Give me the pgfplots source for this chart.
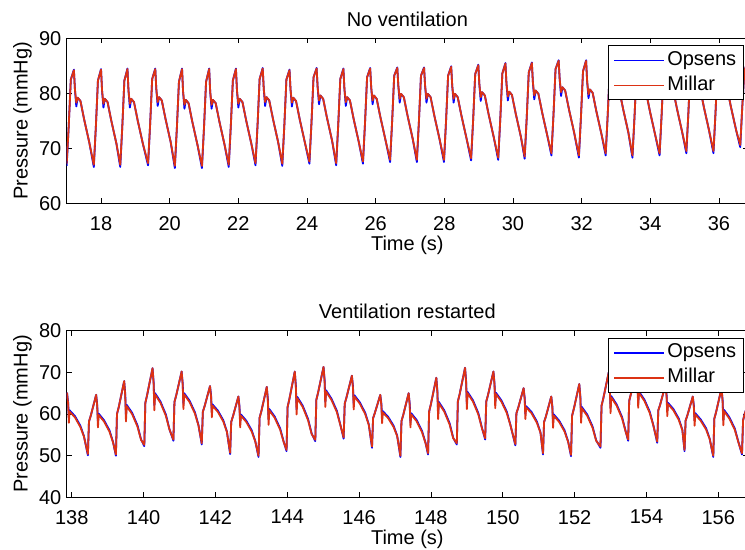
\documentclass[border=0pt]{standalone}
\usepackage{pgfplots}
\pgfplotsset{compat=1.18}
\usepackage{pgfplotstable}
\usepackage{fontspec}
\setmainfont{Liberation Sans}
\definecolor{opsblue}{rgb}{0,0,1}
\definecolor{milred}{RGB}{220,50,20}

\pgfplotstableread{
t o m
17.00 66.8 67.2
17.06 74.2 74.2
17.12 82.5 82.5
17.21 84.3 84.2
17.24 80.7 80.7
17.28 77.6 78.3
17.32 79.2 79.2
17.40 78.6 78.6
17.51 75.2 75.2
17.66 71.0 71.0
17.79 66.6 67.0
17.85 74.0 74.0
17.91 82.3 82.3
18.00 84.4 84.3
18.03 80.5 80.5
18.07 77.4 78.1
18.11 79.0 79.0
18.19 78.4 78.4
18.30 75.0 75.0
18.45 70.8 70.8
18.56 66.6 67.0
18.62 74.0 74.0
18.68 82.3 82.3
18.77 84.5 84.4
18.80 80.5 80.5
18.84 77.4 78.1
18.88 79.0 79.0
18.96 78.4 78.4
19.07 75.0 75.0
19.22 70.8 70.8
19.37 66.9 67.3
19.43 74.3 74.3
19.49 82.6 82.6
19.58 84.5 84.4
19.61 80.8 80.8
19.65 77.7 78.4
19.69 79.3 79.3
19.77 78.7 78.7
19.88 75.3 75.3
20.03 71.1 71.1
20.15 66.4 66.8
20.21 73.8 73.8
20.27 82.1 82.1
20.36 84.5 84.4
20.39 80.3 80.3
20.43 77.2 77.9
20.47 78.8 78.8
20.55 78.2 78.2
20.66 74.8 74.8
20.81 70.6 70.6
20.94 66.4 66.8
21.00 73.8 73.8
21.06 82.1 82.1
21.15 84.5 84.4
21.18 80.3 80.3
21.22 77.2 77.9
21.26 78.8 78.8
21.34 78.2 78.2
21.45 74.8 74.8
21.60 70.6 70.6
21.72 66.6 67.0
21.78 74.0 74.0
21.84 82.3 82.3
21.93 84.5 84.4
21.96 80.5 80.5
22.00 77.4 78.1
22.04 79.0 79.0
22.12 78.4 78.4
22.23 75.0 75.0
22.38 70.8 70.8
22.50 66.9 67.3
22.56 74.3 74.3
22.62 82.6 82.6
22.71 84.6 84.5
22.74 80.8 80.8
22.78 77.7 78.4
22.82 79.3 79.3
22.90 78.7 78.7
23.01 75.3 75.3
23.16 71.1 71.1
23.28 66.8 67.2
23.34 74.2 74.2
23.40 82.5 82.5
23.49 84.3 84.2
23.52 80.7 80.7
23.56 77.6 78.3
23.60 79.2 79.2
23.68 78.6 78.6
23.79 75.2 75.2
23.94 71.0 71.0
24.07 67.2 67.6
24.13 74.6 74.6
24.19 82.9 82.9
24.28 84.6 84.5
24.31 81.1 81.1
24.35 78.0 78.7
24.39 79.6 79.6
24.47 79.0 79.0
24.58 75.6 75.6
24.73 71.4 71.4
24.85 66.9 67.3
24.91 74.3 74.3
24.97 82.6 82.6
25.06 84.5 84.4
25.09 80.8 80.8
25.13 77.7 78.4
25.17 79.3 79.3
25.25 78.7 78.7
25.36 75.3 75.3
25.51 71.1 71.1
25.63 67.2 67.6
25.69 74.6 74.6
25.75 82.9 82.9
25.84 84.6 84.5
25.87 81.1 81.1
25.91 78.0 78.7
25.95 79.6 79.6
26.03 79.0 79.0
26.14 75.6 75.6
26.29 71.4 71.4
26.42 67.5 67.9
26.48 74.9 74.9
26.54 83.2 83.2
26.63 84.7 84.6
26.66 81.4 81.4
26.70 78.3 79.0
26.74 79.9 79.9
26.82 79.3 79.3
26.93 75.9 75.9
27.08 71.7 71.7
27.20 67.5 67.9
27.26 74.9 74.9
27.32 83.2 83.2
27.41 84.7 84.6
27.44 81.4 81.4
27.48 78.3 79.0
27.52 79.9 79.9
27.60 79.3 79.3
27.71 75.9 75.9
27.86 71.7 71.7
27.99 67.5 67.9
28.05 74.9 74.9
28.11 83.2 83.2
28.20 84.9 84.8
28.23 81.4 81.4
28.27 78.3 79.0
28.31 79.9 79.9
28.39 79.3 79.3
28.50 75.9 75.9
28.65 71.7 71.7
28.78 67.8 68.2
28.84 75.2 75.2
28.90 83.5 83.5
28.99 85.2 85.1
29.02 81.7 81.7
29.06 78.6 79.3
29.10 80.2 80.2
29.18 79.6 79.6
29.29 76.2 76.2
29.44 72.0 72.0
29.57 67.9 68.3
29.63 75.3 75.3
29.69 83.6 83.6
29.78 85.5 85.4
29.81 81.8 81.8
29.85 78.7 79.4
29.89 80.3 80.3
29.97 79.7 79.7
30.08 76.3 76.3
30.23 72.1 72.1
30.34 68.1 68.5
30.40 75.5 75.5
30.46 83.8 83.8
30.55 85.6 85.5
30.58 82.0 82.0
30.62 78.9 79.6
30.66 80.5 80.5
30.74 79.9 79.9
30.85 76.5 76.5
31.00 72.3 72.3
31.12 68.7 69.1
31.18 76.1 76.1
31.24 84.4 84.4
31.33 86.0 85.9
31.36 82.6 82.6
31.40 79.5 80.2
31.44 81.1 81.1
31.52 80.5 80.5
31.63 77.1 77.1
31.78 72.9 72.9
31.92 68.3 68.7
31.98 75.7 75.7
32.04 84.0 84.0
32.13 86.0 85.9
32.16 82.2 82.2
32.20 79.1 79.8
32.24 80.7 80.7
32.32 80.1 80.1
32.43 76.7 76.7
32.58 72.5 72.5
32.70 68.7 69.1
32.76 76.1 76.1
32.82 84.4 84.4
32.91 85.7 85.6
32.94 82.6 82.6
32.98 79.5 80.2
33.02 81.1 81.1
33.10 80.5 80.5
33.21 77.1 77.1
33.36 72.9 72.9
33.48 68.3 68.7
33.54 75.7 75.7
33.60 84.0 84.0
33.69 85.7 85.6
33.72 82.2 82.2
33.76 79.1 79.8
33.80 80.7 80.7
33.88 80.1 80.1
33.99 76.7 76.7
34.14 72.5 72.5
34.27 68.7 69.1
34.33 76.1 76.1
34.39 84.4 84.4
34.48 85.7 85.6
34.51 82.6 82.6
34.55 79.5 80.2
34.59 81.1 81.1
34.67 80.5 80.5
34.78 77.1 77.1
34.93 72.9 72.9
35.05 69.1 69.5
35.11 76.5 76.5
35.17 84.8 84.8
35.26 85.7 85.6
35.29 83.0 83.0
35.33 79.9 80.6
35.37 81.5 81.5
35.45 80.9 80.9
35.56 77.5 77.5
35.71 73.3 73.3
35.84 69.1 69.5
35.90 76.5 76.5
35.96 84.8 84.8
36.05 85.7 85.6
36.08 83.0 83.0
36.12 79.9 80.6
36.16 81.5 81.5
36.24 80.9 80.9
36.35 77.5 77.5
36.50 73.3 73.3
36.62 70.2 70.6
36.68 77.6 77.6
36.74 84.0 84.0
36.83 85.8 85.8
}\topdata

\pgfplotstableread{
t o m
137.64 51.7 52.0
137.67 59.2 59.2
137.72 60.5 60.5
137.87 65.0 65.0
137.90 62.8 62.4
137.92 59.1 57.9
137.94 60.9 60.6
138.09 59.5 59.2
138.24 57.2 56.9
138.34 54.7 54.6
138.45 50.1 50.4
138.48 58.2 58.2
138.53 59.6 59.6
138.68 64.6 64.6
138.71 62.2 61.8
138.73 58.0 56.8
138.75 60.1 59.8
138.90 58.5 58.2
139.05 56.1 55.8
139.15 53.3 53.2
139.23 50.0 50.3
139.26 60.0 60.0
139.31 61.7 61.7
139.46 67.9 67.9
139.49 64.8 64.4
139.51 59.4 58.2
139.53 62.2 61.9
139.68 60.3 60.0
139.83 57.3 57.0
139.93 53.9 53.8
140.02 52.3 52.6
140.05 62.7 62.7
140.10 64.6 64.6
140.25 71.0 71.0
140.28 67.7 67.3
140.30 62.1 60.9
140.32 65.0 64.7
140.47 63.0 62.7
140.62 59.9 59.6
140.72 56.4 56.3
140.83 53.6 53.9
140.86 62.9 62.9
140.91 64.5 64.5
141.06 70.2 70.2
141.09 67.3 66.9
141.11 62.4 61.2
141.13 65.0 64.7
141.28 63.2 62.9
141.43 60.4 60.1
141.53 57.3 57.2
141.62 52.7 53.0
141.65 60.5 60.5
141.70 61.9 61.9
141.85 66.7 66.7
141.88 64.4 64.0
141.90 60.4 59.2
141.92 62.3 62.0
142.07 60.8 60.5
142.22 58.5 58.2
142.32 55.8 55.7
142.41 50.4 50.7
142.44 58.1 58.1
142.49 59.5 59.5
142.64 64.2 64.2
142.67 61.9 61.5
142.69 58.0 56.8
142.71 59.9 59.6
142.86 58.4 58.1
143.01 56.1 55.8
143.11 53.5 53.4
143.20 49.7 50.0
143.23 59.1 59.1
143.28 60.7 60.7
143.43 66.5 66.5
143.46 63.6 63.2
143.48 58.6 57.4
143.50 61.2 60.9
143.65 59.4 59.1
143.80 56.6 56.3
143.90 53.4 53.3
143.98 51.1 51.4
144.01 61.7 61.7
144.06 63.6 63.6
144.21 70.2 70.2
144.24 66.8 66.4
144.26 61.1 59.9
144.28 64.1 63.8
144.43 62.0 61.7
144.58 58.8 58.5
144.68 55.3 55.2
144.78 53.5 53.8
144.81 63.4 63.4
144.86 65.2 65.2
145.01 71.3 71.3
145.04 68.2 67.8
145.06 62.9 61.7
145.08 65.7 65.4
145.23 63.7 63.4
145.38 60.8 60.5
145.48 57.4 57.3
145.57 54.1 54.4
145.60 62.5 62.5
145.65 64.0 64.0
145.80 69.2 69.2
145.83 66.6 66.2
145.85 62.3 61.1
145.87 64.5 64.2
146.02 62.8 62.5
146.17 60.3 60.0
146.27 57.5 57.4
146.36 51.9 52.2
146.39 59.0 59.0
146.44 60.3 60.3
146.59 64.6 64.6
146.62 62.5 62.1
146.64 59.0 57.8
146.66 60.7 60.4
146.81 59.3 59.0
146.96 57.2 56.9
147.06 54.8 54.7
147.15 49.7 50.0
147.18 58.3 58.3
147.23 59.8 59.8
147.38 65.0 65.0
147.41 62.4 62.0
147.43 58.0 56.8
147.45 60.2 59.9
147.60 58.6 58.3
147.75 56.0 55.7
147.85 53.1 53.0
147.92 50.3 50.6
147.95 60.6 60.6
148.00 62.4 62.4
148.15 68.7 68.7
148.18 65.5 65.1
148.20 60.0 58.8
148.22 62.9 62.6
148.37 60.9 60.6
148.52 57.8 57.5
148.62 54.3 54.2
148.72 52.7 53.0
148.75 63.0 63.0
148.80 64.8 64.8
148.95 71.1 71.1
148.98 67.9 67.5
149.00 62.4 61.2
149.02 65.3 65.0
149.17 63.3 63.0
149.32 60.2 59.9
149.42 56.7 56.6
149.51 53.9 54.2
149.54 63.0 63.0
149.59 64.6 64.6
149.74 70.2 70.2
149.77 67.4 67.0
149.79 62.6 61.4
149.81 65.1 64.8
149.96 63.3 63.0
150.11 60.6 60.3
150.21 57.5 57.4
150.35 52.5 52.8
150.38 60.2 60.2
150.43 61.5 61.5
150.58 66.2 66.2
150.61 63.9 63.5
150.63 60.0 58.8
150.65 61.9 61.6
150.80 60.5 60.2
150.95 58.2 57.9
151.05 55.6 55.5
151.12 50.3 50.6
151.15 58.1 58.1
151.20 59.4 59.4
151.35 64.2 64.2
151.38 61.9 61.5
151.40 57.9 56.7
151.42 59.9 59.6
151.57 58.4 58.1
151.72 56.1 55.8
151.82 53.4 53.3
151.90 49.9 50.2
151.93 59.6 59.6
151.98 61.3 61.3
152.13 67.2 67.2
152.16 64.2 63.8
152.18 59.1 57.9
152.20 61.7 61.4
152.35 59.9 59.6
152.50 57.0 56.7
152.60 53.7 53.6
152.72 51.9 52.2
152.75 62.0 62.0
152.80 63.8 63.8
152.95 70.0 70.0
152.98 66.8 66.4
153.00 61.4 60.2
153.02 64.3 64.0
153.17 62.3 62.0
153.32 59.3 59.0
153.42 55.9 55.8
153.49 53.6 53.9
153.52 63.2 63.2
153.57 64.9 64.9
153.72 70.8 70.8
153.75 67.8 67.4
153.77 62.7 61.5
153.79 65.4 65.1
153.94 63.5 63.2
154.09 60.6 60.3
154.19 57.4 57.3
154.30 53.1 53.4
154.33 60.9 60.9
154.38 62.2 62.2
154.53 67.0 67.0
154.56 64.7 64.3
154.58 60.7 59.5
154.60 62.7 62.4
154.75 61.2 60.9
154.90 58.9 58.6
155.00 56.2 56.1
155.06 51.1 51.4
155.09 58.4 58.4
155.14 59.7 59.7
155.29 64.2 64.2
155.32 62.0 61.6
155.34 58.4 57.2
155.36 60.2 59.9
155.51 58.7 58.4
155.66 56.6 56.3
155.76 54.1 54.0
155.86 49.7 50.0
155.89 58.9 58.9
155.94 60.5 60.5
156.09 66.2 66.2
156.12 63.4 63.0
156.14 58.5 57.3
156.16 61.0 60.7
156.31 59.2 58.9
156.46 56.5 56.2
156.56 53.3 53.2
156.66 50.3 50.6
156.69 58.5 58.5
156.74 60.2 60.2
156.89 64.0 64.0
}\bottomdata

\pgfplotsset{
  every axis title/.style={at={(axis description cs:0.5,1)}, anchor=base, inner sep=0pt, yshift=5.9pt},
  every axis x label/.style={at={(axis description cs:0.5,0)}, anchor=north, inner sep=0pt, yshift=-16.2pt},
  every axis y label/.style={at={(axis description cs:-0.0649,0.5)}, rotate=90, anchor=center, inner sep=0pt},
  matstyle/.style={
    scale only axis,
    width=340.65pt,
    font=\fontsize{10}{12}\selectfont,
    axis line style={line width=0.6pt},
    tick align=inside,
    major tick length=2.5pt,
    every tick/.style={black, line width=0.4pt},
    /pgf/number format/assume math mode=true,
    yticklabel style={inner sep=0pt, anchor=east, xshift=-2.5pt},
    xticklabel style={inner sep=0pt, anchor=north, yshift=-6.2pt},
    xlabel={Time (s)},
    ylabel={Pressure (mmHg)},
    legend cell align=left,
    legend image code/.code={\draw[#1, line width=0.8pt] (0pt,0pt) -- (25pt,0pt);},
    legend style={at={(rel axis cs:1,1)}, anchor=north east, xshift=-2pt, yshift=-3.6pt,
      draw=black, fill=white, inner xsep=2.5pt, inner ysep=1.4pt,
      row sep=0.8pt,
      nodes={inner sep=1.2pt, text height=7.2pt, text depth=2.1pt}},
  },
  sig/.style={line width=0.9pt, line join=round, no markers},
}

\begin{document}
\begin{tikzpicture}
\begin{axis}[matstyle,
  at={(33.35pt,173.35pt)}, anchor=south west,
  height=82.5pt,
  xmin=17, xmax=36.846, ymin=60, ymax=90,
  xtick={18,20,...,36}, ytick={60,70,80,90},
  title={No ventilation}]
\addplot[sig, color=opsblue] table[x=t, y=o] {\topdata};
\addplot[sig, color=milred] table[x=t, y=m] {\topdata};
\legend{Opsens, Millar}
\end{axis}
\begin{axis}[matstyle,
  at={(33.35pt,26.3pt)}, anchor=south west,
  height=83.35pt,
  xmin=137.86, xmax=156.827, ymin=40, ymax=80,
  xtick={138,140,...,156}, ytick={40,50,60,70,80},
  title={Ventilation restarted}]
\addplot[sig, color=opsblue] table[x=t, y=o] {\bottomdata};
\addplot[sig, color=milred] table[x=t, y=m] {\bottomdata};
\legend{Opsens, Millar}
\end{axis}
\pgfresetboundingbox
\useasboundingbox (0,0) rectangle (372.5pt,275pt);
\end{tikzpicture}
\end{document}
